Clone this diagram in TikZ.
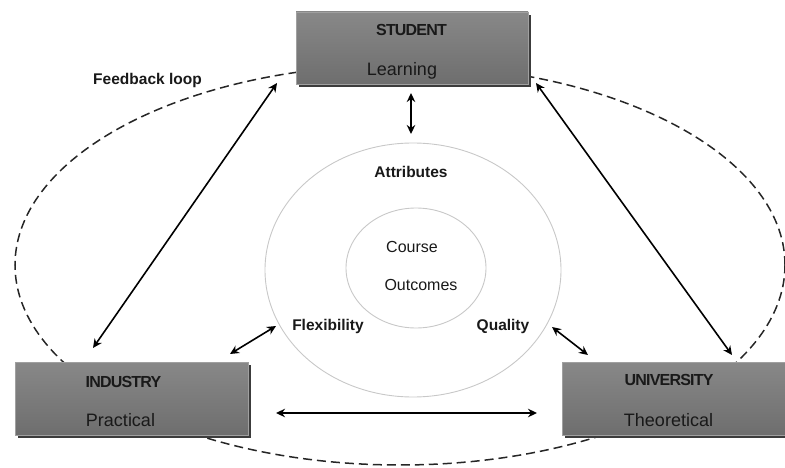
\documentclass[tikz,border=0pt]{standalone}
\usepackage{fontspec}
\setmainfont{Liberation Sans}
\usetikzlibrary{arrows.meta,shapes.geometric}
\definecolor{boxtop}{RGB}{136,136,136}
\definecolor{boxbot}{RGB}{110,110,110}
\definecolor{boxshadow}{RGB}{60,60,60}
\definecolor{ringgray}{RGB}{200,200,200}
\definecolor{txtdark}{RGB}{25,25,25}
\tikzset{
  pbox/.style={draw=boxtop!80!white, line width=0.6pt, top color=boxtop, bottom color=boxbot, inner sep=0pt},
  shadowbox/.style={fill=boxshadow, draw=none},
  titletxt/.style={font=\fontsize{16}{18}\selectfont\bfseries\addfontfeature{LetterSpace=-5}, text=txtdark, anchor=base, inner sep=0pt},
  subtxt/.style={font=\fontsize{18}{20}\selectfont, text=txtdark, anchor=base, inner sep=0pt},
  boldlbl/.style={font=\fontsize{15.5}{18}\selectfont\bfseries, text=txtdark, anchor=base, inner sep=0pt},
  plainlbl/.style={font=\fontsize{16}{18}\selectfont, text=txtdark, anchor=base, inner sep=0pt},
  ring/.style={draw=ringgray, line width=0.9pt},
  link/.style={line width=1.6pt, {Stealth[length=9pt,width=8.5pt]}-{Stealth[length=9pt,width=8.5pt]}},
  loop/.style={draw=black!85, line width=1.5pt, dash pattern=on 9pt off 5pt}
}
\begin{document}
\begin{tikzpicture}[x=1pt,y=-1pt]
\useasboundingbox (0,0) rectangle (785,468);
% feedback loop
\draw[loop] (400,265) ellipse [x radius=385pt, y radius=200pt];
% rings
\node[ring, ellipse, minimum width=296pt, minimum height=254pt, inner sep=0pt] (outer) at (413,270) {};
\node[ring, ellipse, minimum width=140pt, minimum height=120pt, inner sep=0pt] (inner) at (416,268) {};
% box shadows
\fill[shadowbox] (299,15) rectangle (531,87);
\fill[shadowbox] (18,365) rectangle (251,438);
\fill[shadowbox] (565,365) rectangle (788,438);
% boxes
\node[pbox, minimum width=232pt, minimum height=72pt] (student) at (412,48) {};
\node[pbox, minimum width=233pt, minimum height=73pt] (industry) at (131.5,398.5) {};
\node[pbox, minimum width=223pt, minimum height=73pt] (university) at (673.5,398.5) {};
% box texts
\node[titletxt] (studentT) at (411.5,36) {STUDENT};
\node[subtxt] (studentS) at (402,76) {Learning};
\node[titletxt] (industryT) at (123.5,387) {INDUSTRY};
\node[subtxt] (industryS) at (120.5,426) {Practical};
\node[titletxt] (universityT) at (669,385) {UNIVERSITY};
\node[subtxt] (universityS) at (668.5,426) {Theoretical};
% labels
\node[boldlbl] (fb) at (147.5,85) {Feedback loop};
\node[boldlbl] (attr) at (411,178) {Attributes};
\node[plainlbl] (course) at (412,252) {Course};
\node[plainlbl] (outc) at (421,290) {Outcomes};
\node[boldlbl] (flex) at (328,330) {Flexibility};
\node[boldlbl] (qual) at (503,330) {Quality};
% arrow end points
\coordinate (sTop) at (411,93);
\coordinate (sBot) at (411,134);
\coordinate (lA) at (277,83);
\coordinate (lB) at (93,348);
\coordinate (rA) at (536,83);
\coordinate (rB) at (732,355);
\coordinate (fA) at (230,354);
\coordinate (fB) at (276,326);
\coordinate (qA) at (552,327);
\coordinate (qB) at (588,355);
\coordinate (hA) at (276,413);
\coordinate (hB) at (537,413);
% arrows
\draw[link] (sTop) -- (sBot);
\draw[link] (lA) -- (lB);
\draw[link] (rA) -- (rB);
\draw[link] (fA) -- (fB);
\draw[link] (qA) -- (qB);
\draw[link, line width=2pt] (hA) -- (hB);
\end{tikzpicture}
\end{document}
